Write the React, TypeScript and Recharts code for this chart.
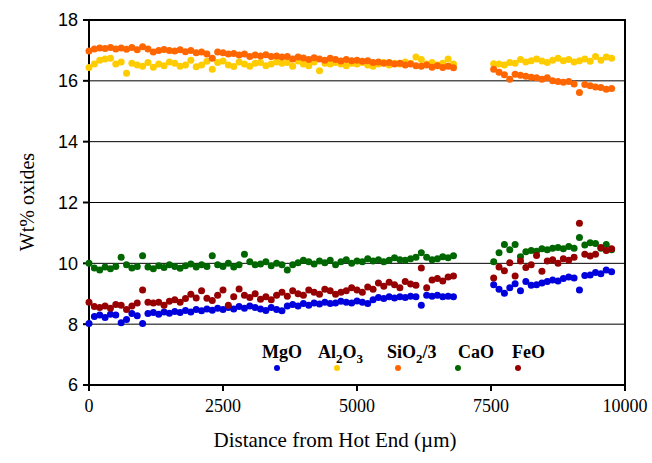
import React from 'react';
import {
  ScatterChart,
  Scatter,
  XAxis,
  YAxis,
  CartesianGrid,
  ReferenceArea,
  Label,
} from 'recharts';

// distance from hot end (µm); gap between 6800 and 7550
const distance = [
  0, 100, 200, 300, 400, 500, 600, 700, 800, 900,
  1000, 1100, 1200, 1300, 1400, 1500, 1600, 1700, 1800, 1900,
  2000, 2100, 2200, 2300, 2400, 2500, 2600, 2700, 2800, 2900,
  3000, 3100, 3200, 3300, 3400, 3500, 3600, 3700, 3800, 3900,
  4000, 4100, 4200, 4300, 4400, 4500, 4600, 4700, 4800, 4900,
  5000, 5100, 5200, 5300, 5400, 5500, 5600, 5700, 5800, 5900,
  6000, 6100, 6200, 6300, 6400, 6500, 6600, 6700, 6800,
  7550, 7650, 7750, 7850, 7950, 8050, 8150, 8250, 8350, 8450,
  8550, 8650, 8750, 8850, 8950, 9050, 9150, 9250, 9350, 9450,
  9550, 9650, 9750,
];

const mgo = [
  8.02, 8.25, 8.3, 8.22, 8.33, 8.3, 8.05, 8.15, 8.35, 8.28,
  8.02, 8.35, 8.38, 8.33, 8.4, 8.36, 8.42, 8.38, 8.45, 8.4,
  8.48, 8.44, 8.5, 8.46, 8.52, 8.48, 8.55, 8.5, 8.58, 8.52,
  8.6, 8.55, 8.5, 8.45, 8.55, 8.48, 8.44, 8.6, 8.65, 8.6,
  8.68, 8.62, 8.7, 8.66, 8.72, 8.68, 8.7, 8.75, 8.72, 8.7,
  8.76, 8.72, 8.68, 8.8, 8.88, 8.84, 8.9, 8.86, 8.9, 8.88,
  8.92, 8.9, 8.62, 8.95, 8.92, 8.95, 8.9, 8.92, 8.9,
  9.3, 9.15, 9.02, 9.2, 9.33, 9.1, 9.4, 9.28, 9.3, 9.35,
  9.4, 9.45, 9.42, 9.5, 9.55, 9.52, 9.12, 9.6, 9.62, 9.7,
  9.66, 9.78, 9.72,
];

const al2o3 = [
  16.44, 16.55, 16.68, 16.72, 16.74, 16.55, 16.62, 16.25, 16.58, 16.52,
  16.48, 16.6, 16.45, 16.55, 16.5, 16.62, 16.58, 16.48, 16.52, 16.68,
  16.46, 16.52, 16.64, 16.38, 16.6, 16.65, 16.52, 16.47, 16.62, 16.55,
  16.48, 16.58, 16.6, 16.5, 16.55, 16.62, 16.58, 16.6, 16.48, 16.65,
  16.55, 16.5, 16.62, 16.33, 16.58, 16.55, 16.6, 16.55, 16.5, 16.58,
  16.55, 16.6, 16.52, 16.48, 16.55, 16.6, 16.52, 16.58, 16.55, 16.62,
  16.58, 16.78, 16.7, 16.55, 16.6, 16.52, 16.58, 16.72, 16.55,
  16.56, 16.55, 16.52, 16.6, 16.58, 16.7, 16.62, 16.66, 16.72, 16.65,
  16.6, 16.68, 16.74, 16.66, 16.7, 16.62, 16.66, 16.72, 16.64, 16.8,
  16.68, 16.78, 16.74,
];

const sio2 = [
  16.98, 17.05, 17.08, 17.06, 17.1, 17.05, 17.08, 17.04, 17.1, 17.02,
  17.12, 17.05, 16.95, 17.0, 17.03, 17.0, 16.98, 17.02, 16.96, 17.0,
  16.92, 16.95, 16.88, 16.74, 16.95, 16.92, 16.88, 16.9, 16.85, 16.88,
  16.8, 16.85, 16.82, 16.86, 16.8, 16.82, 16.78, 16.8, 16.72, 16.78,
  16.75, 16.7, 16.76, 16.72, 16.68, 16.74, 16.7, 16.65, 16.7, 16.66,
  16.68, 16.64, 16.66, 16.6, 16.62, 16.58, 16.6, 16.55, 16.58, 16.52,
  16.55, 16.5, 16.48, 16.52, 16.45, 16.5, 16.44, 16.48, 16.43,
  16.38, 16.28, 16.2, 16.05, 16.22, 16.18, 16.15, 16.12, 16.1, 16.05,
  16.1, 16.0, 15.98, 15.95, 15.98, 15.9, 15.62, 15.88, 15.84, 15.8,
  15.78, 15.72, 15.75,
];

const cao = [
  10.0, 9.85, 9.78, 9.88, 9.82, 9.9, 10.2, 9.95, 9.85, 9.9,
  10.25, 9.88, 9.82, 9.92, 9.86, 9.95, 9.9, 9.84, 9.92, 9.98,
  9.88, 9.95, 9.9, 10.25, 9.95, 9.9, 10.0, 9.88, 9.95, 10.3,
  10.05, 9.95, 9.98, 10.05, 9.92, 10.0, 9.95, 9.78, 9.95, 10.02,
  10.1, 10.05, 9.98, 10.08, 10.02, 10.1, 9.95, 10.05, 10.12, 10.0,
  10.08, 10.05, 10.15, 10.08, 10.12, 10.05, 10.1, 10.18, 10.12, 10.1,
  10.15, 10.2, 10.35, 10.2, 10.12, 10.15, 10.22, 10.18, 10.25,
  10.05, 10.35, 10.62, 10.45, 10.62, 10.22, 10.38, 10.42, 10.4, 10.48,
  10.45, 10.5, 10.52, 10.48, 10.55, 10.5, 10.85, 10.6, 10.68, 10.65,
  10.5, 10.62, 10.45,
];

const feo = [
  8.72, 8.58, 8.55, 8.6, 8.52, 8.65, 8.62, 8.48, 8.6, 8.7,
  9.12, 8.72, 8.7, 8.72, 8.62, 8.75, 8.8, 8.72, 8.84, 8.98,
  8.86, 9.1, 8.85, 8.78, 8.95, 9.12, 8.62, 8.9, 9.16, 8.95,
  8.88, 9.0, 8.82, 8.9, 8.8, 8.95, 9.05, 8.92, 9.1, 9.0,
  8.95, 9.12, 9.05, 8.98, 9.15, 9.1, 8.98, 9.05, 9.1, 9.2,
  9.12, 9.05, 9.22, 9.15, 9.35, 9.25, 9.38, 9.3, 9.2, 9.4,
  9.32, 9.28, 9.85, 9.2, 9.45, 9.5, 9.42, 9.55, 9.58,
  9.52, 9.88, 9.76, 10.02, 9.58, 10.08, 9.86, 9.95, 10.26, 9.74,
  10.08, 10.12, 10.0, 10.15, 10.1, 10.2, 11.32, 10.3, 10.24, 10.3,
  10.52, 10.42, 10.48,
];

const xTicks = [0, 2500, 5000, 7500, 10000];
const yTicks = [6, 8, 10, 12, 14, 16, 18];

const series = [
  { name: 'MgO', values: mgo, color: '#0000dd' },
  { name: 'Al2O3', values: al2o3, color: '#ffcc00' },
  { name: 'SiO2/3', values: sio2, color: '#ff6600' },
  { name: 'CaO', values: cao, color: '#006600' },
  { name: 'FeO', values: feo, color: '#960000' },
];

const toPoints = (values: number[]) => distance.map((x, i) => ({ x, y: values[i] }));

const dotShape = (color: string) => (props: any) => (
  <circle cx={props.cx} cy={props.cy} r={3.5} fill={color} />
);

const serif = '"Liberation Serif", "Times New Roman", serif';
const sans = '"Liberation Sans", Arial, sans-serif';

const LegendOverlay = () => (
  <svg
    width={652}
    height={463}
    style={{ position: 'absolute', left: 0, top: 0, pointerEvents: 'none' }}
  >
    <g fontFamily={serif} fontWeight="bold" fontSize={18} fill="#000">
      <text x={262} y={358}>MgO</text>
      <text x={318} y={358}>
        Al<tspan dy={5} fontSize={13}>2</tspan>
        <tspan dy={-5}>O</tspan>
        <tspan dy={5} fontSize={13}>3</tspan>
      </text>
      <text x={387} y={358}>
        SiO<tspan dy={5} fontSize={13}>2</tspan>
        <tspan dy={-5}>/3</tspan>
      </text>
      <text x={458} y={358}>CaO</text>
      <text x={512} y={358}>FeO</text>
    </g>
    <circle cx={277} cy={368} r={3} fill={series[0].color} />
    <circle cx={337} cy={368} r={3} fill={series[1].color} />
    <circle cx={398} cy={368} r={3} fill={series[2].color} />
    <circle cx={458} cy={368} r={3} fill={series[3].color} />
    <circle cx={518} cy={368} r={3} fill={series[4].color} />
  </svg>
);

export default function App() {
  return (
    <div style={{ position: 'absolute', left: 0, top: 0, width: 652, height: 463, background: '#fff' }}>
      <ScatterChart width={652} height={463} margin={{ top: 20, right: 27, bottom: 0, left: 0 }}>
        <CartesianGrid vertical={false} stroke="#000" strokeWidth={1} />
        <XAxis
          type="number"
          dataKey="x"
          domain={[0, 10000]}
          ticks={xTicks}
          height={78}
          stroke="#000"
          strokeWidth={2}
          tickSize={6}
          tickMargin={8}
          tick={{ fill: '#000', fontFamily: serif, fontSize: 18 }}
        >
          <Label
            content={() => (
              <text x={335} y={447} textAnchor="middle" fontFamily={serif} fontSize={21} fill="#000">
                Distance from Hot End (µm)
              </text>
            )}
          />
        </XAxis>
        <YAxis
          type="number"
          dataKey="y"
          domain={[6, 18]}
          ticks={yTicks}
          width={89}
          stroke="#000"
          strokeWidth={2}
          tickSize={6}
          tickMargin={5}
          tick={{ fill: '#000', fontFamily: sans, fontSize: 18 }}
        >
          <Label
            content={() => (
              <text
                x={34}
                y={202}
                transform="rotate(-90 34 202)"
                textAnchor="middle"
                fontFamily={serif}
                fontSize={20}
                fill="#000"
              >
                Wt% oxides
              </text>
            )}
          />
        </YAxis>
        {series.map((s) => (
          <Scatter
            key={s.name}
            name={s.name}
            data={toPoints(s.values)}
            fill={s.color}
            shape={dotShape(s.color)}
            isAnimationActive={false}
          />
        ))}
        <ReferenceArea x1={0} x2={10000} y1={6} y2={18} fill="none" stroke="#000" strokeWidth={2} />
      </ScatterChart>
      <LegendOverlay />
    </div>
  );
}
